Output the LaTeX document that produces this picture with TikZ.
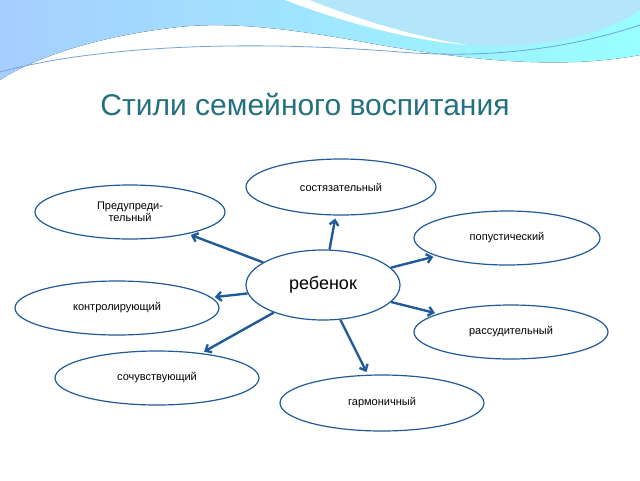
\documentclass[tikz,border=0pt]{standalone}
\usepackage{fontspec}
\setmainfont{Liberation Sans}
\usepackage{tikz}
\usetikzlibrary{arrows.meta,shapes.geometric}
\definecolor{linkblue}{HTML}{1F5A9A}
\definecolor{titleteal}{HTML}{24707F}

\begin{document}
\begin{tikzpicture}[x=1pt,y=-1pt,
      item/.style={ellipse, draw=linkblue, line width=1.2pt, fill=white, inner sep=0pt, font=\fontsize{11}{12}\selectfont, align=center},
      link/.style={-{Straight Barb[length=5pt,width=9pt]}, linkblue, line width=2.4pt, shorten >=3pt}
    ]
    \useasboundingbox (0,0) rectangle (640,480);
    % top wave
    \fill[left color=cyan!45!blue!35, right color=cyan!40] (0,0) -- (640,0) -- (640,55) .. controls (560,70) and (470,60) .. (380,45) .. controls (300,30) and (230,20) .. (170,28) .. controls (90,38) and (30,60) .. (0,80) -- cycle;
    \fill[white] (285,0) -- (310,0) .. controls (360,20) and (420,38) .. (470,45) .. controls (420,42) and (350,25) .. (285,0) -- cycle;
    \fill[cyan!30] (310,0) -- (640,0) -- (640,10) .. controls (600,40) and (520,50) .. (470,45) .. controls (420,38) and (360,20) .. (310,0) -- cycle;
    \draw[cyan!60!blue!60, line width=0.8pt] (0,72) .. controls (100,45) and (250,40) .. (400,52) .. controls (500,60) and (580,45) .. (640,25);

    \node[titleteal, font=\fontsize{30}{34}\selectfont] (title) at (305,105) {Стили семейного воспитания};

    \node[item, minimum width=154pt, minimum height=70pt, font=\fontsize{18}{20}\selectfont] (child) at (323,285) {ребенок};
    \node[item, minimum width=190pt, minimum height=56pt] (compet) at (341,187) {состязательный};
    \node[item, minimum width=190pt, minimum height=54pt] (prevent) at (130,212) {Предупреди-\\тельный};
    \node[item, minimum width=186pt, minimum height=54pt] (permis) at (507,238) {попустический};
    \node[item, minimum width=204pt, minimum height=54pt] (control) at (117,308) {контролирующий};
    \node[item, minimum width=194pt, minimum height=54pt] (reason) at (511,332) {рассудительный};
    \node[item, minimum width=204pt, minimum height=54pt] (sympath) at (157,378) {сочувствующий};
    \node[item, minimum width=204pt, minimum height=56pt] (harmon) at (382,403) {гармоничный};

    \draw[link] (child) -- (compet);
    \draw[link] (child) -- (prevent);
    \draw[link] (child) -- (permis);
    \draw[link] (child) -- (control);
    \draw[link] (child) -- (reason);
    \draw[link] (child) -- (sympath);
    \draw[link] (child) -- (harmon);
  \end{tikzpicture}
\end{document}
